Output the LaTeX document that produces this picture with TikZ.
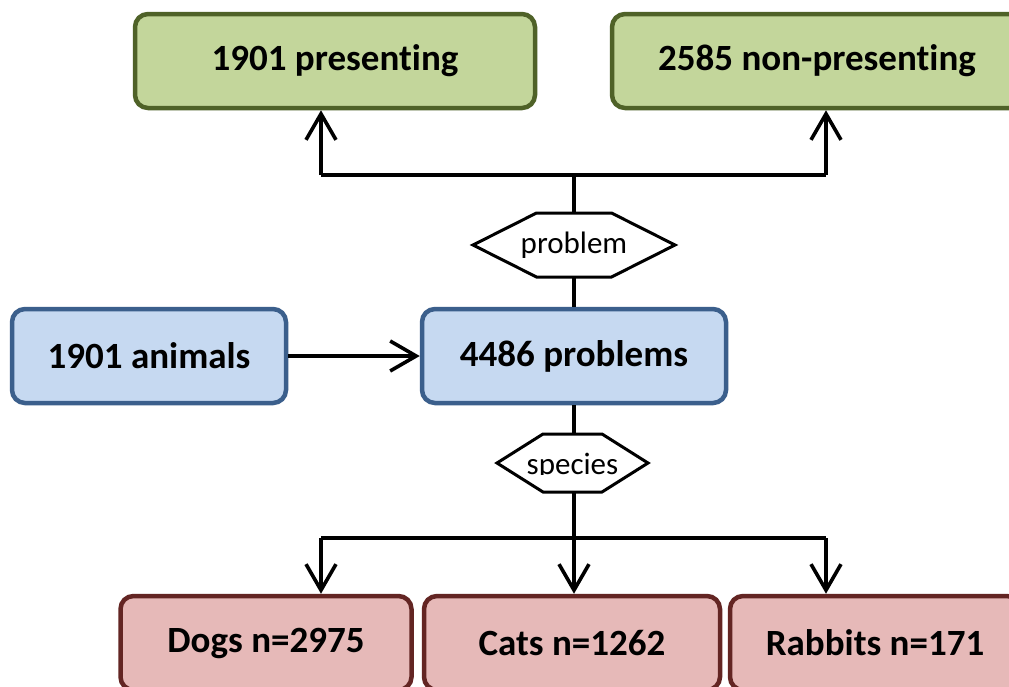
\documentclass[tikz,border=0pt]{standalone}
\usepackage{fontspec}
\setmainfont{Carlito}[Ligatures=NoCommon]
\usetikzlibrary{arrows.meta,calc}
\definecolor{gfill}{HTML}{C3D69B}
\definecolor{gline}{HTML}{4F6228}
\definecolor{bfill}{HTML}{C6D9F1}
\definecolor{bline}{HTML}{3B5F8C}
\definecolor{pfill}{HTML}{E6B9B8}
\definecolor{pline}{HTML}{632523}
\begin{document}
\begin{tikzpicture}[x=1pt,y=-1pt,
  box/.style={rounded corners=13pt,line width=4.5pt,minimum height=94pt,inner sep=0pt,font=\bfseries\fontsize{37}{40}\selectfont},
  gbox/.style={box,draw=gline,fill=gfill},
  bbox/.style={box,draw=bline,fill=bfill},
  pbox/.style={box,draw=pline,fill=pfill},
  conn/.style={line width=3.6pt,draw=black},
  arr/.style={conn,-{Straight Barb[length=26pt,width=30pt,line width=3.6pt]}},
  hexline/.style={line width=3pt,draw=black,fill=white,line join=miter},
  hexlabel/.style={inner sep=0pt,font=\fontsize{31}{33}\selectfont}]
\clip (0,0) rectangle (1009,686);
\fill[white] (0,0) rectangle (1009,686);

% boxes
\node[gbox,minimum width=400pt] (pres) at (335,61) {1901 presenting};
\node[gbox,minimum width=410pt] (nonpres) at (817,61) {2585 non-presenting};
\node[bbox,minimum width=274pt] (animals) at (149,356) {1901 animals};
\node[bbox,minimum width=304pt] (problems) at (574,356) {4486 problems};
\node[pbox,minimum width=291pt] (dogs) at (266,643) {Dogs n=2975};
\node[pbox,minimum width=296pt] (cats) at (572,643) {Cats n=1262};
\node[pbox,minimum width=290pt] (rabbits) at (875,643) {Rabbits n=171};

% hexagon "problem"
\coordinate (pc) at (574,245);
\draw[hexline] ($(pc)+(-101,0)$) -- ++(63.5,-32) -- ++(75,0) -- ++(63.5,32) -- ++(-63.5,32) -- ++(-75,0) -- cycle;
\node[hexlabel,minimum width=202pt,minimum height=64pt] (prob) at (pc) {problem};

% hexagon "species"
\coordinate (sc) at (572.5,463);
\draw[hexline] ($(sc)+(-75.5,0)$) -- ++(46,-29) -- ++(59,0) -- ++(46,29) -- ++(-46,29) -- ++(-59,0) -- cycle;
\begin{scope}
\clip (497,430) rectangle (648,474);
\node[hexlabel,anchor=base] (spec) at (572.5,474) {species};
\end{scope}
\coordinate (specN) at (574,434);
\coordinate (specS) at (574,492);

% junctions
\coordinate (jt) at (574,175);
\coordinate (jtl) at (321,175);
\coordinate (jtr) at (826,175);
\coordinate (jb) at (574,538);
\coordinate (jbl) at (321,538);
\coordinate (jbr) at (826,538);

% connectors top
\draw[conn] (prob.north) -- (jt);
\draw[conn] (jtl) -- (jtr);
\draw[arr] (jtl) -- (jtl |- pres.south);
\draw[arr] (jtr) -- (jtr |- nonpres.south);
\draw[conn] (problems.north) -- (prob.south);

% middle
\draw[arr] (animals.east) -- (problems.west);

% bottom
\draw[conn] (problems.south) -- (specN);
\draw[conn] (specS) -- (jb);
\draw[conn] (jbl) -- (jbr);
\draw[arr] (jbl) -- (jbl |- dogs.north);
\draw[arr] (jb) -- (jb |- cats.north);
\draw[arr] (jbr) -- (jbr |- rabbits.north);
\end{tikzpicture}
\end{document}
